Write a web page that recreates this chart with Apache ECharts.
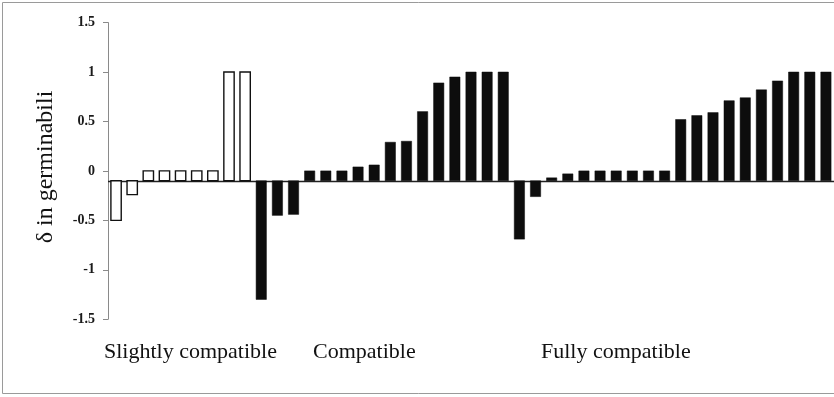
<!DOCTYPE html>
<html>
<head>
<meta charset="utf-8">
<script src="https://cdn.jsdelivr.net/npm/echarts@6/dist/echarts.min.js"></script>
<style>
  html, body { margin: 0; padding: 0; background: #fff; }
  #chart { width: 834px; height: 397px; }
</style>
</head>
<body>
<div id="chart"></div>
<script>
// Change in germinability per accession, sorted within compatibility classes
const openBars = [-0.5, -0.24, 0, 0, 0, 0, 0, 1, 1];
const solidBars = [
  -1.30, -0.45, -0.44, 0, 0, 0, 0.04, 0.06, 0.29, 0.30, 0.60, 0.89, 0.95, 1, 1, 1,
  -0.69, -0.26, -0.07, -0.03, 0, 0, 0, 0, 0, 0,
  0.52, 0.56, 0.59, 0.71, 0.74, 0.82, 0.91, 1, 1, 1
];
const groupLabels = ['Slightly compatible', 'Compatible', 'Fully compatible'];
const yTicks = { min: -1.5, max: 1.5, step: 0.5 };
const axisTitle = 'δ in germinabili';
const crossAt = -0.1; // category axis crosses the value axis here

const total = openBars.length + solidBars.length;
const categories = Array.from({ length: total }, (_, i) => String(i + 1));
const openData = openBars.map((v, i) => [i, v]);
const solidData = solidBars.map((v, i) => [i + openBars.length, v]);

const SERIF = '"Liberation Serif", "DejaVu Serif", serif';

function barRenderer(fill, stroke, lw) {
  return function (params, api) {
    const i = api.value(0);
    const v = api.value(1);
    const top = api.coord([i, v]);
    const base = api.coord([i, crossAt]);
    const w = api.size([1, 0])[0] * 0.64;
    const y0 = Math.min(top[1], base[1]);
    const h = Math.abs(top[1] - base[1]);
    return {
      type: 'rect',
      shape: { x: top[0] - w / 2, y: y0, width: w, height: h },
      style: { fill: fill, stroke: stroke, lineWidth: lw }
    };
  };
}

function groupText(label, x) {
  return {
    type: 'text', x: x, y: 341,
    style: { text: label, font: '22px ' + SERIF, fill: '#111', align: 'left', verticalAlign: 'top' }
  };
}

const chart = echarts.init(document.getElementById('chart'), null, { renderer: 'canvas' });
chart.setOption({
  animation: false,
  backgroundColor: '#fff',
  grid: { left: 108, top: 22.6, height: 296.6, width: 729 },
  xAxis: {
    type: 'category',
    data: categories,
    axisLine: { show: false },
    axisTick: { show: false },
    axisLabel: { show: false },
    splitLine: { show: false }
  },
  yAxis: {
    type: 'value',
    min: yTicks.min,
    max: yTicks.max,
    interval: yTicks.step,
    axisLine: { show: true, lineStyle: { color: '#8a8a8a', width: 1 } },
    axisTick: { show: true, inside: false, length: 5, lineStyle: { color: '#8a8a8a' } },
    axisLabel: {
      margin: 13,
      fontFamily: SERIF,
      fontSize: 14,
      fontWeight: 'bold',
      color: '#1a1a1a'
    },
    splitLine: { show: false }
  },
  series: [
    {
      name: 'open',
      type: 'custom',
      renderItem: barRenderer('#ffffff', '#111111', 1.4),
      encode: { x: 0, y: 1 },
      data: openData,
      z: 3
    },
    {
      name: 'solid',
      type: 'custom',
      renderItem: barRenderer('#0d0d0d', '#0d0d0d', 0.5),
      encode: { x: 0, y: 1 },
      data: solidData,
      z: 3,
      markLine: {
        silent: true,
        symbol: ['none', 'none'],
        label: { show: false },
        lineStyle: { color: '#222', width: 1.3, type: 'solid' },
        data: [{ yAxis: crossAt }],
        z: 2
      }
    }
  ],
  graphic: [
    {
      type: 'rect',
      shape: { x: 2.5, y: 2.5, width: 900, height: 391 },
      style: { fill: 'none', stroke: '#9a9a9a', lineWidth: 1 },
      silent: true
    },
    {
      type: 'text',
      x: 46, y: 167,
      rotation: Math.PI / 2,
      style: {
        text: axisTitle,
        font: '24px ' + SERIF,
        fill: '#111',
        align: 'center',
        verticalAlign: 'middle'
      }
    },
    groupText(groupLabels[0], 104),
    groupText(groupLabels[1], 313),
    groupText(groupLabels[2], 541)
  ]
});
</script>
</body>
</html>
